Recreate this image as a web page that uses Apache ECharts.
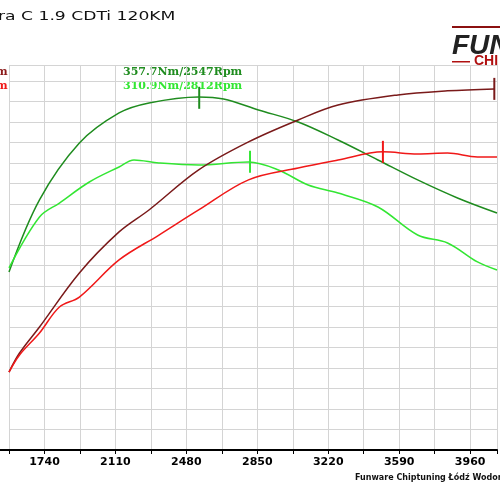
<!DOCTYPE html>
<html><head><meta charset="utf-8">
<script src="https://cdn.jsdelivr.net/npm/echarts@6/dist/echarts.min.js"></script>
<style>html,body{margin:0;padding:0;background:#fff}#c{width:500px;height:500px}</style>
</head><body><div id="c"></div>
<script>
const torqueTunedRpm = [1555,1714,1922,2129,2285,2544,2674,2856,3063,3271,3479,3686,3894,4100];
const torqueTuned    = [230.2,283,324.6,346.6,353.9,358.3,356.8,348.8,340,326.8,312.2,297.6,284.4,273.4];
const torqueStockRpm = [1555,1714,1818,1974,2129,2207,2337,2544,2804,2960,3115,3271,3479,3686,3842,3998,4100];
const torqueStock    = [233.2,270.5,280.7,296.1,307.1,312.2,310,308.5,310.7,304.9,293.9,288,277.8,257.3,251.5,237.6,231.7];
const powerTunedRpm  = [1555,1610,1714,1922,2129,2285,2544,2804,3063,3271,3583,3842,4086];
const powerTuned     = [32.3,40.2,51,73.4,90.4,99.5,116.1,127.7,136.8,143,147.2,148.9,149.7];
const powerStockRpm  = [1555,1610,1714,1818,1922,2129,2337,2544,2804,3063,3271,3505,3686,3842,3998,4100];
const powerStock     = [32.3,39.4,48.5,59.3,63.4,78.8,89.1,99.5,112,116.9,120.2,123.6,122.7,123.1,121.5,121.5];
const xLabels = [1740,2110,2480,2850,3220,3590,3960];
const pair = (a,b)=>a.map((x,i)=>[x,b[i]]);
const mk = (x,y,c)=>({symbol:'rect',symbolSize:[2,22],itemStyle:{color:c},label:{show:false},data:[{coord:[x,y]}]});
const ln = {smooth:0.35,symbol:'none',type:'line'};
const chart = echarts.init(document.getElementById('c'));
chart.setOption({
  animation:false,
  grid:{left:9,right:0,top:65,bottom:50},
  xAxis:{type:'value',min:1555,max:4100,interval:185,
    axisLine:{show:true,lineStyle:{color:'#000',width:2}},
    axisTick:{show:true,inside:false,length:4,lineStyle:{color:'#000'}},
    axisLabel:{show:true,margin:7,fontWeight:'bold',fontSize:11,color:'#000',fontFamily:'DejaVu Sans',
      formatter:v=>xLabels.includes(Math.round(v))?String(Math.round(v)):''},
    splitLine:{show:true,lineStyle:{color:'#d4d4d4',width:1}}},
  yAxis:[{type:'value',min:100,max:381.7,interval:15,axisLine:{show:false},axisTick:{show:false},axisLabel:{show:false},
    splitLine:{show:true,lineStyle:{color:'#d4d4d4',width:1}}},
    {type:'value',min:0,max:159.6,show:false,splitLine:{show:false}}],
  series:[
    Object.assign({data:pair(torqueTunedRpm,torqueTuned),lineStyle:{color:'#1f8c1f',width:1.5},markPoint:mk(2547,357.7,'#1f8c1f')},ln),
    Object.assign({data:pair(torqueStockRpm,torqueStock),lineStyle:{color:'#33e633',width:1.5},markPoint:mk(2812,310.9,'#33e633')},ln),
    Object.assign({yAxisIndex:1,data:pair(powerTunedRpm,powerTuned),lineStyle:{color:'#7a1a1a',width:1.5},markPoint:mk(4086,149.7,'#7a1a1a')},ln),
    Object.assign({yAxisIndex:1,data:pair(powerStockRpm,powerStock),lineStyle:{color:'#f01818',width:1.5},markPoint:mk(3505,123.6,'#f01818')},ln)
  ],
  graphic:[
    {type:'line',shape:{x1:0,y1:450,x2:10,y2:450},style:{stroke:'#000',lineWidth:2}},
    {type:'text',left:-2,top:10,style:{text:'ra C 1.9 CDTi 120KM',font:'13px "DejaVu Sans"',fill:'#111'},scaleX:1.32},
    {type:'text',left:-4,top:67,style:{text:'m',font:'bold 11px "DejaVu Serif"',fill:'#8b1a1a'}},
    {type:'text',left:-4,top:81,style:{text:'m',font:'bold 11px "DejaVu Serif"',fill:'#f01818'}},
    {type:'text',left:123,top:67,style:{text:'357.7Nm/2547Rpm',font:'bold 11px "DejaVu Serif"',fill:'#1f8c1f'}},
    {type:'text',left:123,top:81,style:{text:'310.9Nm/2812Rpm',font:'bold 11px "DejaVu Serif"',fill:'#33e633'}},
    {type:'text',left:452,top:32,style:{text:'FUN',font:'italic bold 28px "Liberation Sans"',fill:'#222'}},
    {type:'text',left:474,top:54,style:{text:'CHI',font:'bold 14px "Liberation Sans"',fill:'#b01010'}},
    {type:'rect',shape:{x:452,y:61,width:18,height:1.5},style:{fill:'#b01010'}},
    {type:'rect',shape:{x:452,y:26,width:48,height:2},style:{fill:'#8b1010'}},
    {type:'text',left:355,top:474,style:{text:'Funware Chiptuning Łódź Wodorowa',font:'bold 8px "DejaVu Sans"',fill:'#111'}}
  ]
});
</script></body></html>
